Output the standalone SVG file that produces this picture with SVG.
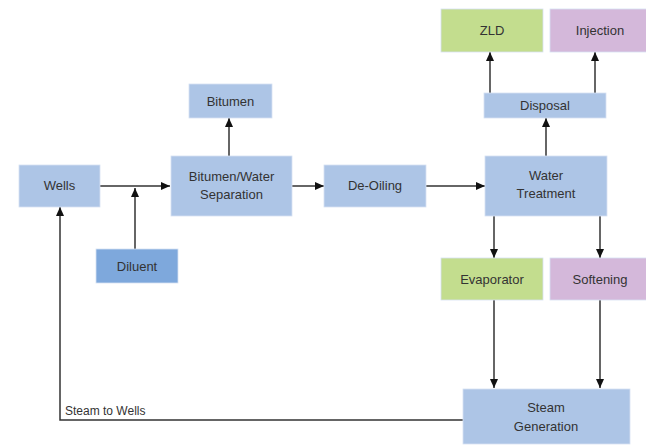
<svg xmlns="http://www.w3.org/2000/svg" width="646" height="446" viewBox="0 0 646 446">
<defs>
<style>
.box{stroke:#d6e2f3;stroke-width:0.8}
.blue{fill:#adc5e6}
.dark{fill:#7ea8dc}
.green{fill:#c3dd8e}
.purple{fill:#d4b8da}
text{font-family:"Liberation Sans",Arial,sans-serif;font-size:13px;fill:#333;text-anchor:middle}
text.lbl{text-anchor:start;font-size:12px}
.c{fill:none;stroke:#333;stroke-width:1.5}
</style>
<marker id="ah" markerUnits="userSpaceOnUse" markerWidth="10" markerHeight="8" refX="9" refY="4" orient="auto">
<path d="M0,0 L9,4 L0,8 Z" fill="#111"/>
</marker>
</defs>
<rect width="646" height="446" fill="#fff"/>
<g id="connectors">
<line class="c" x1="100" y1="186" x2="170" y2="186" marker-end="url(#ah)"/>
<line class="c" x1="135" y1="249" x2="135" y2="188" marker-end="url(#ah)"/>
<polyline class="c" points="463,420 60,420 60,207" marker-end="url(#ah)"/>
<line class="c" x1="229" y1="156" x2="229" y2="118" marker-end="url(#ah)"/>
<line class="c" x1="292" y1="186" x2="324" y2="186" marker-end="url(#ah)"/>
<line class="c" x1="426" y1="186" x2="485" y2="186" marker-end="url(#ah)"/>
<line class="c" x1="546" y1="156" x2="546" y2="118" marker-end="url(#ah)"/>
<line class="c" x1="490" y1="93" x2="490" y2="52" marker-end="url(#ah)"/>
<line class="c" x1="595" y1="93" x2="595" y2="52" marker-end="url(#ah)"/>
<line class="c" x1="494" y1="216" x2="494" y2="258" marker-end="url(#ah)"/>
<line class="c" x1="600" y1="216" x2="600" y2="258" marker-end="url(#ah)"/>
<line class="c" x1="494" y1="300" x2="494" y2="388" marker-end="url(#ah)"/>
<line class="c" x1="600" y1="300" x2="600" y2="388" marker-end="url(#ah)"/>
<text class="lbl" x="65" y="415">Steam to Wells</text>
</g>
<g id="wells"><rect class="box blue" x="19" y="165" width="81" height="42"/><text x="59.5" y="190">Wells</text></g>
<g id="diluent"><rect class="box dark" x="96" y="249" width="82" height="34"/><text x="137" y="271">Diluent</text></g>
<g id="bitumen"><rect class="box blue" x="189" y="84" width="83" height="34"/><text x="230.5" y="106">Bitumen</text></g>
<g id="separation"><rect class="box blue" x="171" y="156" width="121" height="60"/><text x="231.5" y="181">Bitumen/Water</text><text x="231.5" y="199">Separation</text></g>
<g id="deoiling"><rect class="box blue" x="324" y="165" width="102" height="42"/><text x="375" y="190">De-Oiling</text></g>
<g id="watertreatment"><rect class="box blue" x="485" y="156" width="122" height="60"/><text x="546" y="180">Water</text><text x="546" y="198">Treatment</text></g>
<g id="disposal"><rect class="box blue" x="484" y="93" width="122" height="25"/><text x="545" y="110">Disposal</text></g>
<g id="zld"><rect class="box green" x="441" y="9" width="102" height="43"/><text x="492" y="35">ZLD</text></g>
<g id="injection"><rect class="box purple" x="550" y="9" width="98" height="43"/><text x="600" y="35">Injection</text></g>
<g id="evaporator"><rect class="box green" x="441" y="258" width="102" height="42"/><text x="492" y="284">Evaporator</text></g>
<g id="softening"><rect class="box purple" x="550" y="258" width="98" height="42"/><text x="600" y="284">Softening</text></g>
<g id="steamgen"><rect class="box blue" x="463" y="389" width="167" height="55"/><text x="546" y="412">Steam</text><text x="546" y="431">Generation</text></g>
</svg>
